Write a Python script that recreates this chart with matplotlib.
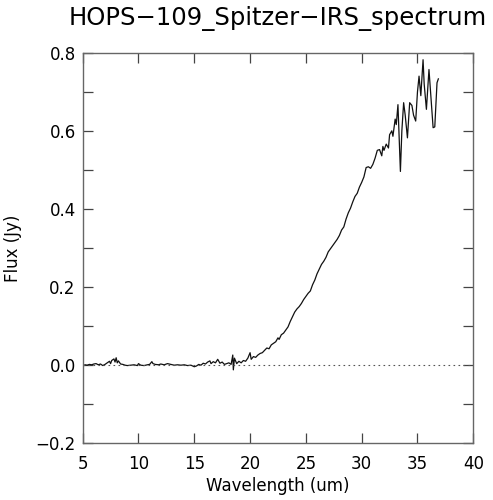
import matplotlib
matplotlib.use("Agg")
import matplotlib.pyplot as plt
from matplotlib.ticker import MultipleLocator, FuncFormatter

plt.rcParams['font.family'] = ['DejaVu Sans']

title = "HOPS\u2212109_Spitzer\u2212IRS_spectrum"
xlabel = "Wavelength (um)"
ylabel = "Flux (Jy)"

wavelength = [
    5.2, 5.4, 5.6, 5.8, 6.0, 6.2, 6.4, 6.6, 6.8, 7.0, 7.2, 7.4, 7.5, 7.6, 7.8, 7.9, 8.0, 8.1, 8.2, 8.4,
    8.6, 8.8, 9.0, 9.3, 9.6, 9.9, 10.0, 10.2, 10.5, 10.8, 11.0, 11.2, 11.3, 11.5, 11.8, 12.0, 12.3, 12.6,
    12.9, 13.2, 13.5, 13.8, 14.1, 14.4, 14.7, 15.0, 15.2, 15.4, 15.6, 15.8, 16.0, 16.2, 16.4, 16.5, 16.7,
    16.9, 17.1, 17.3, 17.5, 17.7, 17.9, 18.1, 18.3, 18.45, 18.5, 18.6, 18.8, 19.0, 19.2, 19.4, 19.6, 19.8,
    20.0, 20.1, 20.3, 20.5, 20.7, 20.9, 21.1, 21.3, 21.5, 21.7, 21.9, 22.1, 22.3, 22.5, 22.6, 22.8, 23.0,
    23.2, 23.4, 23.6, 23.8, 24.0, 24.2, 24.4, 24.6, 24.8, 25.0, 25.2, 25.4, 25.6, 25.8, 26.0, 26.2, 26.4,
    26.6, 26.8, 27.0, 27.2, 27.4, 27.6, 27.8, 28.0, 28.2, 28.4, 28.6, 28.8, 29.0, 29.2, 29.4, 29.6, 29.8,
    30.0, 30.2, 30.4, 30.6, 30.8, 31.0, 31.2, 31.4, 31.6, 31.8, 31.9, 32.0, 32.2, 32.4, 32.5, 32.7, 32.8,
    33.0, 33.1, 33.25, 33.47, 33.6, 33.76, 33.9, 34.1, 34.3, 34.5, 34.65, 34.84, 35.0, 35.14, 35.3, 35.5,
    35.6, 35.8, 36.03, 36.2, 36.4, 36.55, 36.75, 36.87,
]
flux = [
    0.001, 0.000, 0.002, 0.001, 0.003, 0.004, 0.001, 0.003, -0.001, 0.002, 0.006, 0.010, 0.004, 0.012,
    0.016, 0.008, 0.019, 0.006, 0.011, 0.003, 0.002, 0.000, -0.001, 0.000, 0.001, -0.001, 0.004, 0.000,
    -0.001, 0.001, 0.002, 0.009, 0.004, 0.002, 0.001, 0.003, 0.001, 0.004, 0.002, 0.000, 0.001, 0.000,
    0.001, -0.001, 0.000, -0.004, -0.002, 0.002, 0.000, 0.005, 0.003, 0.008, 0.011, 0.004, 0.009, 0.006,
    0.015, 0.005, 0.008, 0.002, 0.004, 0.006, 0.002, 0.026, -0.012, 0.018, 0.004, 0.010, 0.006, 0.012,
    0.010, 0.018, 0.032, 0.015, 0.022, 0.020, 0.026, 0.030, 0.032, 0.038, 0.044, 0.042, 0.052, 0.056,
    0.060, 0.070, 0.066, 0.078, 0.082, 0.090, 0.098, 0.112, 0.124, 0.136, 0.144, 0.150, 0.158, 0.168,
    0.176, 0.184, 0.190, 0.206, 0.218, 0.234, 0.246, 0.258, 0.266, 0.276, 0.290, 0.298, 0.306, 0.314,
    0.322, 0.332, 0.346, 0.354, 0.374, 0.390, 0.402, 0.418, 0.432, 0.440, 0.456, 0.468, 0.482, 0.506,
    0.508, 0.504, 0.514, 0.530, 0.550, 0.552, 0.536, 0.560, 0.550, 0.566, 0.556, 0.590, 0.600, 0.586,
    0.630, 0.616, 0.667, 0.496, 0.600, 0.672, 0.640, 0.582, 0.672, 0.665, 0.640, 0.625, 0.700, 0.740,
    0.690, 0.782, 0.720, 0.655, 0.757, 0.690, 0.608, 0.610, 0.723, 0.733,
]

xlim = (5, 40)
ylim = (-0.2, 0.8)

fig = plt.figure(figsize=(4.93, 5.00), dpi=100)
ax = fig.add_axes([0.1677, 0.1134, 0.7923, 0.7812])

ax.plot(wavelength, flux, color='#111111', lw=0.9)
ax.plot(xlim, [0, 0], color='#555555', lw=0.8, ls=(0, (1.5, 3)))

ax.set_xlim(*xlim)
ax.set_ylim(*ylim)
ax.xaxis.set_major_locator(MultipleLocator(5))
ax.yaxis.set_major_locator(MultipleLocator(0.2))
ax.yaxis.set_minor_locator(MultipleLocator(0.1))
ax.yaxis.set_major_formatter(FuncFormatter(lambda v, p: f"{v:.1f}".replace('-', '\u2212')))

for sp in ax.spines.values():
    sp.set_color('#666666')
    sp.set_linewidth(1.0)
ax.tick_params(which='both', direction='in', top=True, right=True, length=7,
               width=0.9, color='#444444', labelsize=12)
ax.tick_params(axis='x', pad=8.5)
ax.tick_params(axis='y', pad=5)

ax.set_xlabel(xlabel, fontsize=12)
ax.xaxis.set_label_coords(0.5, -0.085)
ax.set_ylabel(ylabel, fontsize=12)
ax.yaxis.set_label_coords(-0.155, 0.5)
ax.set_title(title, fontsize=17.5, pad=20)

fig.savefig("out.png", dpi=100)
